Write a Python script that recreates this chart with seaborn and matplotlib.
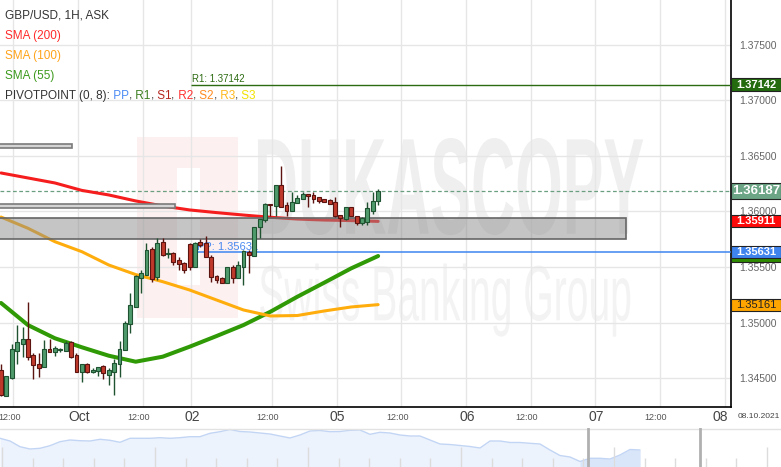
import numpy as np
import matplotlib
matplotlib.use("Agg")
import matplotlib.pyplot as plt
import seaborn as sns
from matplotlib.patches import Rectangle, PathPatch
from matplotlib.textpath import TextPath
from matplotlib.font_manager import FontProperties, fontManager
from matplotlib.transforms import Affine2D, blended_transform_factory, offset_copy
from matplotlib.ticker import FormatStrFormatter

# GBP/USD 1H candles
opens = [1.34572, 1.34340, 1.34500, 1.34743, 1.34806, 1.34851, 1.34707, 1.34626, 1.34599, 1.34761,
         1.34734, 1.34752, 1.34743, 1.34824, 1.34707, 1.34554, 1.34626, 1.34554, 1.34563, 1.34608,
         1.34527, 1.34554, 1.34626, 1.34752, 1.34986, 1.35140, 1.35401, 1.35428, 1.35662, 1.35410,
         1.35725, 1.35617, 1.35626, 1.35563, 1.35536, 1.35707, 1.35500, 1.35725, 1.35716, 1.35590,
         1.35419, 1.35401, 1.35356, 1.35500, 1.35401, 1.35500, 1.35635, 1.35599, 1.35860, 1.35923,
         1.36067, 1.36049, 1.36239, 1.36058, 1.36004, 1.36076, 1.36112, 1.36158, 1.36149, 1.36131,
         1.36112, 1.36103, 1.36085, 1.35968, 1.35932, 1.36040, 1.35959, 1.35896, 1.35905, 1.36004,
         1.36094]
highs = [1.34626, 1.34520, 1.34806, 1.34977, 1.34959, 1.35185, 1.34725, 1.34725, 1.34842, 1.34851,
         1.34788, 1.34770, 1.34833, 1.34833, 1.34725, 1.34626, 1.34635, 1.34590, 1.34599, 1.34617,
         1.34590, 1.34671, 1.34833, 1.35014, 1.35266, 1.35428, 1.35473, 1.35716, 1.35680, 1.35761,
         1.35761, 1.35671, 1.35635, 1.35590, 1.35545, 1.35716, 1.35725, 1.35752, 1.35779, 1.35608,
         1.35428, 1.35410, 1.35500, 1.35518, 1.35554, 1.35653, 1.35653, 1.35860, 1.35932, 1.36076,
         1.36067, 1.36239, 1.36410, 1.36085, 1.36176, 1.36149, 1.36176, 1.36158, 1.36176, 1.36131,
         1.36112, 1.36112, 1.36131, 1.35968, 1.36040, 1.36040, 1.35959, 1.35950, 1.36085, 1.36176,
         1.36203]
lows = [1.34338, 1.34335, 1.34495, 1.34626, 1.34689, 1.34662, 1.34491, 1.34509, 1.34599, 1.34734,
        1.34698, 1.34734, 1.34743, 1.34680, 1.34554, 1.34464, 1.34545, 1.34545, 1.34518, 1.34491,
        1.34437, 1.34347, 1.34509, 1.34752, 1.34905, 1.35140, 1.35266, 1.35428, 1.35365, 1.35383,
        1.35599, 1.35581, 1.35518, 1.35473, 1.35446, 1.35473, 1.35500, 1.35680, 1.35590, 1.35365,
        1.35356, 1.35356, 1.35356, 1.35356, 1.35401, 1.35338, 1.35446, 1.35599, 1.35761, 1.35905,
        1.35959, 1.35959, 1.36040, 1.35959, 1.36004, 1.36076, 1.36112, 1.36040, 1.36076, 1.36076,
        1.36085, 1.36067, 1.35950, 1.35860, 1.35923, 1.35959, 1.35878, 1.35878, 1.35878, 1.35977,
        1.36058]
closes = [1.34345, 1.34518, 1.34761, 1.34824, 1.34851, 1.34689, 1.34617, 1.34590, 1.34761, 1.34734,
          1.34770, 1.34761, 1.34815, 1.34689, 1.34554, 1.34626, 1.34554, 1.34572, 1.34599, 1.34545,
          1.34572, 1.34635, 1.34761, 1.34995, 1.35158, 1.35419, 1.35446, 1.35653, 1.35392, 1.35716,
          1.35608, 1.35626, 1.35545, 1.35527, 1.35473, 1.35500, 1.35716, 1.35698, 1.35590, 1.35410,
          1.35383, 1.35356, 1.35500, 1.35401, 1.35518, 1.35644, 1.35608, 1.35860, 1.35932, 1.36067,
          1.36058, 1.36239, 1.36040, 1.36004, 1.36085, 1.36122, 1.36158, 1.36140, 1.36112, 1.36094,
          1.36085, 1.36067, 1.35959, 1.35941, 1.36040, 1.35959, 1.35896, 1.35941, 1.36031, 1.36094,
          1.36187]

# moving averages, sampled every 5 bars
sma_idx = [0, 5, 10, 15, 20, 25, 30, 35, 40, 45, 50, 55, 60, 65, 70]
sma200 = [1.36347, 1.36302, 1.36257, 1.36190, 1.36149, 1.36095, 1.36050, 1.36014, 1.35990, 1.35968,
          1.35948, 1.35932, 1.35923, 1.35918, 1.35911]
sma100 = [1.35950, 1.35849, 1.35728, 1.35638, 1.35518, 1.35432, 1.35368, 1.35293, 1.35203, 1.35113,
          1.35059, 1.35063, 1.35104, 1.35140, 1.35161]
sma55 = [1.35176, 1.34977, 1.34858, 1.34777, 1.34701, 1.34647, 1.34692, 1.34782, 1.34878, 1.34977,
         1.35097, 1.35232, 1.35359, 1.35488, 1.35599]

pivot_pp = 1.35631
pivot_r1 = 1.37142
pivot_start = 35.3

# grey zones: (end bar, low, high)
zone_end = [13.2, 32.3, 116.0]
zone_low = [1.36572, 1.36032, 1.35752]
zone_high = [1.36608, 1.36068, 1.35941]

tick_labels = ["12:00", "Oct", "12:00", "02", "12:00", "05", "12:00", "06", "12:00", "07", "12:00", "08"]
tick_bars = [2, 14, 26, 35, 50, 62, 74, 86, 98, 110, 122, 134]

# navigator overview series (relative height)
nav_h = [28.7, 26, 20.3, 18, 18.7, 21.3, 25.3, 27, 26.3, 26, 27.7, 26.7, 24.7, 28.7, 28.7, 28.7,
         29.3, 28.7, 29.3, 30.3, 30.3, 33.7, 35.3, 37.5, 35.5, 35, 34, 33, 31, 29, 32, 36, 36.5,
         35.3, 35.5, 36.7, 37, 32.7, 34.7, 34, 32, 31, 31, 27, 23, 22.5, 21.5, 20.5, 19, 26, 26,
         24.5, 24.5, 23.7, 23, 17, 11.5, 10, 5.5, 8.7, 8.7, 8, 12, 17.5, 17]

sns.set_theme(style="white")
names = {f.name for f in fontManager.ttflist}
narrow = "Liberation Sans Narrow" if "Liberation Sans Narrow" in names else "Liberation Sans"
plt.rcParams["font.family"] = ["Liberation Sans", "DejaVu Sans"]

W, H = 781, 467
fig = plt.figure(figsize=(W / 100, H / 100), dpi=100, facecolor="white")
ax = fig.add_axes([0, 60 / H, 731 / W, 407 / H])
ax.set_facecolor("white")

idx = np.arange(len(opens))
o, hi, lo, c = map(np.array, (opens, highs, lows, closes))
up = c >= o

ax.set_xlim(-0.19, 135.5)
ax.set_ylim(1.34239, 1.37905)

# grid
ax.set_yticks(np.arange(1.345, 1.3751, 0.005))
ax.yaxis.set_major_formatter(FormatStrFormatter("%.5f"))
ax.yaxis.tick_right()
ax.tick_params(axis="y", length=0, pad=6, labelsize=7.5, labelcolor="#666666")
ax.set_xticks([b + 0.3 for b in tick_bars])
ax.set_xticklabels([])
ax.tick_params(axis="x", length=0)
ax.grid(True, color="#e6e6e6", lw=1, zorder=0.5)
ax.set_axisbelow(True)
for s in ["left", "top"]:
    ax.spines[s].set_visible(False)
for s in ["right", "bottom"]:
    ax.spines[s].set_color("black")
    ax.spines[s].set_linewidth(1.2)


def fit_text(s, x0, x1, y0, y1, weight, color):
    tp = TextPath((0, 0), s, size=100, prop=FontProperties(family="Liberation Sans", weight=weight))
    e = tp.get_extents()
    tr = (Affine2D().translate(-e.x0, -e.y0)
          .scale((x1 - x0) / e.width, (y1 - y0) / e.height).translate(x0, y0))
    ax.add_artist(PathPatch(tr.transform_path(tp), transform=ax.transData,
                            fc=color, ec="none", zorder=0.3))


# watermark
ax.add_artist(Rectangle((25.25, 1.35041), 18.75, 0.0163, fc="#fdf0f0", ec="none", zorder=0.3))
ax.add_artist(Rectangle((32.7, 1.35338), 4.3, 0.01054, fc="white", ec="none", zorder=0.31))
fit_text("DUKASCOPY", 47.7, 119.2, 1.35788, 1.36662, "bold", "#efefef")
fit_text("Swiss Banking Group", 48.1, 116.8, 1.34873, 1.35122 + 0.0041, "normal", "#f3f3f3")

# current price, pivots
ax.axhline(closes[-1], color="#6a9f80", lw=0.9, ls=(0, (3, 2)), zorder=2.5)
ax.hlines([pivot_r1], pivot_start, 140, color="#2d6b12", lw=1, zorder=2.6)
ax.hlines([pivot_pp], pivot_start, 140, color="#3d85f0", lw=1.1, zorder=2.6)
ax.text(pivot_start + 0.1, pivot_r1 + 0.00004, f"R1: {pivot_r1:.5f}", color="#2d6b12",
        fontsize=7, va="bottom", ha="left", zorder=2.7)
ax.text(pivot_start + 1.0, pivot_pp + 0.00004, f"PP: {pivot_pp:.5f}", color="#4a8af0",
        fontsize=8, va="bottom", ha="left", zorder=2.7)

# moving averages
sns.lineplot(x=sma_idx, y=sma55, ax=ax, color="#2f9a06", lw=2.9, zorder=3)
sns.lineplot(x=sma_idx, y=sma100, ax=ax, color="#ffad0d", lw=2.2, zorder=3)
sns.lineplot(x=sma_idx, y=sma200, ax=ax, color="#f51d1d", lw=2.2, zorder=3)

# zones
for k in range(len(zone_end)):
    big = k == 2
    ax.add_patch(Rectangle((-2, zone_low[k]), zone_end[k] + 2, zone_high[k] - zone_low[k],
                           fc=(0.55, 0.55, 0.55, 0.5) if big else "#d4d4d4",
                           ec="#666666" if big else "#7a7a7a", lw=1.2, zorder=3.5))

# candles
edge = np.where(up, "#1f5230", "#5c1410")
fill = np.where(up, "#4f9a6c", "#c03a2b")
ax.vlines(idx, lo, hi, colors=edge, lw=1, zorder=3.9)
ax.bar(idx, np.maximum(np.abs(c - o), 0.00008), bottom=np.minimum(o, c), width=0.72,
       color=fill, edgecolor=edge, linewidth=0.8, zorder=4)
ax.set_xlim(-0.19, 135.5)
ax.set_ylim(1.34239, 1.37905)

# price tags on the right axis (later tags sit on top)
tagx = blended_transform_factory(ax.transAxes, ax.transData)
bw = 50 / 731
px = (1.37905 - 1.34239) / 407
tags = [(sma55[-1], "#2e8b00", "white", 12, 8, "bold"),
        (pivot_r1, "#236b0e", "white", 13, 8, "bold"),
        (closes[-1], "#6ba585", "white", 16, 9.5, "bold"),
        (sma200[-1], "#ff0a0a", "white", 12, 8, "bold"),
        (pivot_pp, "#3f84ee", "white", 12, 8, "bold"),
        (sma100[-1], "#ffa500", "#222222", 12, 8, "normal")]
for k, (val, fc, tc, hpx, fs, fw) in enumerate(tags):
    ax.add_patch(Rectangle((1.0, val - hpx * px / 2), bw, hpx * px, transform=tagx, fc=fc,
                           ec="#222222", lw=0.8, clip_on=False, zorder=10 + 2 * k))
    ax.text(1.0 + bw / 2, val, f"{val:.5f}", transform=tagx, color=tc, fontsize=fs,
            fontweight=fw, ha="center", va="center", clip_on=False, zorder=11 + 2 * k)

# x labels
xt = blended_transform_factory(ax.transData, ax.transAxes)
for b, lab in zip(tick_bars, tick_labels):
    small = ":" in lab
    dx = -4 if (small or lab == "08") else 1
    ax.text(b + 0.3, -10 / 407, lab, transform=offset_copy(xt, fig, x=dx, units="dots"),
            fontsize=6.5 if small else 10, color="#555555" if small else "#444444",
            family=narrow, ha="center", va="center", clip_on=False)
fig.text(780 / W, 1 - 417 / H, "08.10.2021", fontsize=6, color="#444444", ha="right", va="center")

# legend block
leg = [("GBP/USD, 1H, ASK", "#333333", 15.7), ("SMA (200)", "#ff2b2b", 35.7),
       ("SMA (100)", "#ffa31a", 56), ("SMA (55)", "#3c9a1c", 76)]
for s, col, yy in leg:
    ax.text(5 / 731, 1 - yy / 407, s, transform=ax.transAxes, color=col, fontsize=8.5,
            va="center", ha="left", zorder=30)
parts = [("PIVOTPOINT (0, 8):", "#333333"), (" PP", "#4a8af4"), (",", "#333333"),
         (" R1", "#3a7d1e"), (",", "#333333"), (" S1", "#b3261e"), (",", "#333333"),
         (" R2", "#ff3030"), (",", "#333333"), (" S2", "#ff8a1f"), (",", "#333333"),
         (" R3", "#ffb81c"), (",", "#333333"), (" S3", "#f2e200")]
t = ax.text(5 / 731, 1 - 96 / 407, parts[0][0], transform=ax.transAxes, color=parts[0][1],
            fontsize=8.5, va="center", ha="left", zorder=30)
for s, col in parts[1:]:
    t = ax.annotate(s, xy=(1, 0.5), xycoords=t, color=col, fontsize=8.5,
                    va="center", ha="left", zorder=30, annotation_clip=False)

# navigator
nav = fig.add_axes([0, 0, 1, 39 / H])
nav.set_xlim(0, 78.1)
nav.set_ylim(0, 39)
nav.axis("off")
nav_x = np.arange(len(nav_h))
nh = np.array(nav_h)
nav.fill_between(nav_x, 0, nh, color="#edf3fd", lw=0)
sel = nav_x >= 58
nav.fill_between(nav_x[sel], 0, nh[sel], color="#d9e6fa", lw=0)
sns.lineplot(x=nav_x, y=nh, ax=nav, color="#c2d5f4", lw=1)
for k in range(26):
    xx = (2 + 30.6 * k) / 10
    nav.vlines(xx, 0, 20 if k % 5 == 0 else 9, color="#dcdcdc", lw=1)
nav.axhline(38.5, color="#e2e2e2", lw=1)
nav.axvline(58.8, color="#b0b0b0", lw=2)
nav.axvline(70.0, color="#b0b0b0", lw=2)

fig.savefig("out.png", dpi=100, facecolor="white")
